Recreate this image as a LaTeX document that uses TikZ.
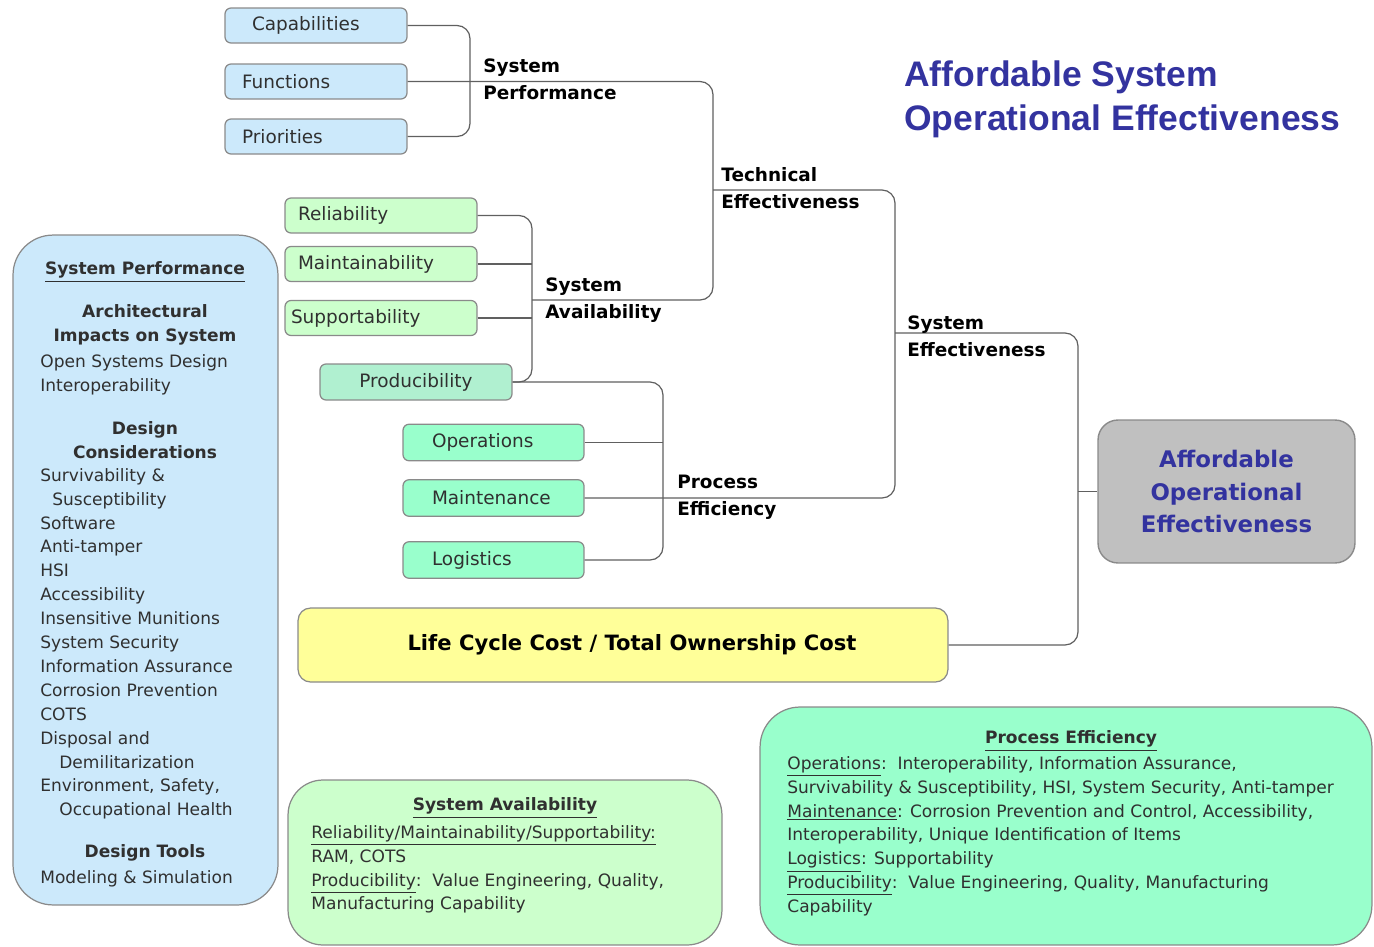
\documentclass[tikz,border=0pt]{standalone}
\usepackage{fontspec}
\setmainfont{DejaVu Sans}
\newfontfamily\titlefont{Liberation Sans}
\definecolor{lblue}{HTML}{CCE9FB}
\definecolor{lgreen}{HTML}{CCFFCC}
\definecolor{tealc}{HTML}{99FFCC}
\definecolor{prodc}{HTML}{B0F0D0}
\definecolor{grayb}{HTML}{C0C0C0}
\definecolor{yelc}{HTML}{FFFF99}
\definecolor{ttlc}{HTML}{33339F}
\definecolor{edgec}{HTML}{8A8A8A}
\definecolor{connc}{HTML}{606060}
\definecolor{textc}{HTML}{303030}
\begin{document}
\begin{tikzpicture}[x=0.02cm,y=-0.02cm,
  box/.style={draw=edgec, line width=0.7pt, rounded corners=0.12cm, inner ysep=0pt,
    font=\fontsize{10.5}{12}\selectfont, text=textc, align=left},
  bluebx/.style={box, fill=lblue, minimum height=0.7cm},
  greenbx/.style={box, fill=lgreen, minimum height=0.7cm},
  tealbx/.style={box, fill=tealc, minimum height=0.73cm},
  panel/.style={draw=edgec, line width=0.7pt},
  conn/.style={draw=connc, line width=0.7pt, rounded corners=0.26cm},
  lbl/.style={font=\fontsize{10.5}{15.4}\selectfont\bfseries, align=left, anchor=north west, inner sep=0pt},
  hd/.style={font=\fontsize{9.7}{13.6}\selectfont\bfseries, align=center, inner sep=0pt, text=textc},
  body/.style={font=\fontsize{9.7}{13.6}\selectfont, align=left, anchor=north west, inner sep=0pt, text=textc}]
\useasboundingbox (0,0) rectangle (1374,947);

% title
\node[font=\titlefont\fontsize{20.2}{25.5}\selectfont\bfseries, text=ttlc, align=left, anchor=north west, inner sep=0pt] (title) at (904,60) {Affordable System\\Operational Effectiveness};

% blue boxes
\node[bluebx, text width=2.56cm, inner xsep=0.54cm] (cap) at (316,25.5) {Capabilities};
\node[bluebx, text width=2.96cm, inner xsep=0.34cm] (fun) at (316,81.5) {Functions};
\node[bluebx, text width=2.96cm, inner xsep=0.34cm] (pri) at (316,136.5) {Priorities};

% green boxes
\node[greenbx, text width=3.32cm, inner xsep=0.26cm] (rel) at (381,215.5) {Reliability};
\node[greenbx, text width=3.32cm, inner xsep=0.26cm] (mai) at (381,264) {Maintainability};
\node[greenbx, text width=3.60cm, inner xsep=0.12cm] (sup) at (381,318) {Supportability};
\node[box, fill=prodc, minimum height=0.72cm, text width=3.84cm, inner xsep=0pt, align=center] (prod) at (416,382) {Producibility};
\node[tealbx, text width=2.46cm, inner xsep=0.58cm] (ops) at (493.5,442.5) {Operations};
\node[tealbx, text width=2.46cm, inner xsep=0.58cm] (mnt) at (493.5,498) {Maintenance};
\node[tealbx, text width=2.46cm, inner xsep=0.58cm] (log) at (493.5,560) {Logistics};

% main boxes
\node[draw=edgec, line width=0.8pt, fill=grayb, rounded corners=0.4cm, minimum width=5.14cm, minimum height=2.86cm,
  font=\fontsize{13}{18.5}\selectfont\bfseries, text=ttlc, align=center] (aoe) at (1226.5,491.5) {Affordable\\Operational\\Effectiveness};
\node[draw=edgec, line width=0.7pt, fill=yelc, rounded corners=0.25cm, minimum width=13cm, minimum height=1.48cm,
  font=\fontsize{12}{14}\selectfont\bfseries] (lcc) at (623,645) {\hspace*{0.36cm}Life Cycle Cost / Total Ownership Cost};

% connector junction coordinates
\coordinate (spx) at (470,81);
\coordinate (tecb) at (713,300);
\coordinate (tect) at (713,190);
\coordinate (sav) at (532,300);
\coordinate (pev) at (663,445);
\coordinate (sev) at (895,333);
\coordinate (aoev) at (1078,495);

\draw[conn] (cap.east) -- (cap.east -| spx) -- (pri.east -| spx) -- (pri.east);
\draw[conn] (fun.east) -| (tecb) -- (sav);
\draw[conn] (rel.east) -| (sav) |- (prod.east);
\draw[conn] (mai.east) -- (mai.east -| sav);
\draw[conn] (sup.east) -- (sup.east -| sav);
\draw[conn] (prod.east) -| (pev) |- (log.east);
\draw[conn] (ops.east) -- (ops.east -| pev);
\draw[conn] (tect) -| (sev) |- (mnt.east);
\draw[conn] (sev) -| (aoev) |- (lcc.east);
\draw[conn] (aoe.west -| aoev) -- (aoe.west);

% branch labels
\node[lbl] (lsp) at (483,58) {System\\Performance};
\node[lbl] (lte) at (721,167) {Technical\\Effectiveness};
\node[lbl] (lsa) at (545,277) {System\\Availability};
\node[lbl] (lpe) at (677,475) {Process\\Efficiency};
\node[lbl] (lse) at (907,315) {System\\Effectiveness};

% left panel
\node[panel, fill=lblue, rounded corners=0.8cm, minimum width=5.3cm, minimum height=13.4cm] (spp) at (145.5,570) {};
\node[hd] (spph) at (145,272) {\underline{System Performance}};
\node[hd] (arch) at (145,325) {Architectural\\Impacts on System};
\node[body] (arl) at (40,354) {Open Systems Design\\Interoperability};
\node[hd] (dc) at (145,440) {Design\\Considerations};
\node[body] (dcl) at (40,468) {Survivability \&\\\hspace*{0.24cm}Susceptibility\\Software\\Anti-tamper\\HSI\\Accessibility\\Insensitive Munitions\\System Security\\Information Assurance\\Corrosion Prevention\\COTS\\Disposal and\\\hspace*{0.38cm}Demilitarization\\Environment, Safety,\\\hspace*{0.38cm}Occupational Health};
\node[hd] (dt) at (145,853) {Design Tools};
\node[body] (dtl) at (40,870) {Modeling \& Simulation};

% system availability panel
\node[panel, fill=lgreen, rounded corners=0.7cm, minimum width=8.68cm, minimum height=3.3cm] (sap) at (505,862.5) {};
\node[hd] (saph) at (505,808) {\underline{System Availability}};
\node[body] (sapl) at (311,825) {\underline{Reliability/Maintainability/Supportability:}\\RAM, COTS\\\underline{Producibility}:~~Value Engineering, Quality,\\Manufacturing Capability};

% process efficiency panel
\node[panel, fill=tealc, rounded corners=0.8cm, minimum width=12.24cm, minimum height=4.76cm] (pep) at (1066,826) {};
\node[hd] (peph) at (1071,741) {\underline{Process Efficiency}};
\node[body] (pepl) at (787,756) {\underline{Operations}:~~Interoperability, Information Assurance,\\Survivability \& Susceptibility, HSI, System Security, Anti-tamper\\\underline{Maintenance}: Corrosion Prevention and Control, Accessibility,\\Interoperability, Unique Identification of Items\\\underline{Logistics}: Supportability\\\underline{Producibility}:~~Value Engineering, Quality, Manufacturing\\Capability};
\end{tikzpicture}
\end{document}
